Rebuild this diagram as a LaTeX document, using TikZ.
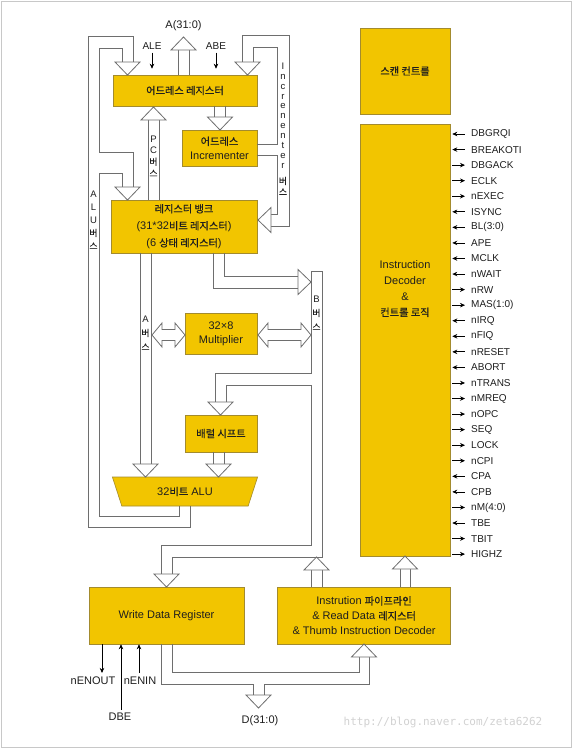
\documentclass[tikz,border=0pt]{standalone}
\usepackage{fontspec}
\setmainfont{Liberation Sans}
\newfontfamily\krfont[Scale=0.93,RawFeature={embolden=0.5}]{Noto Sans CJK KR}
\newfontfamily\stampfont{DejaVu Sans Mono}
\newcommand{\kr}[1]{{\krfont #1}}
\usetikzlibrary{arrows.meta,calc,positioning,shapes.geometric}
\definecolor{Amber}{HTML}{F2C500}
\definecolor{Rim}{HTML}{A38B2E}
\definecolor{Wire}{HTML}{6E6E6E}
\definecolor{Ink}{HTML}{1E1E1E}
\definecolor{Frame}{HTML}{C8C8C8}
\definecolor{Stamp}{HTML}{D2D2D2}
\tikzset{
  block/.style={
    draw=Rim, fill=Amber, line width=0.6pt, align=center, text=Ink,
    inner sep=1pt, font=\fontsize{11}{14}\selectfont
  },
  wall/.style={draw=Wire, line width=0.8pt},
  fathead/.style={wall, fill=white, line join=miter},
  pintext/.style={inner sep=0pt, text=Ink, font=\fontsize{10}{12}\selectfont},
  sigtext/.style={pintext, anchor=west},
  bustext/.style={inner sep=0pt, align=center, text=Ink, font=\fontsize{9.5}{13}\selectfont},
  sig/.style={draw=black, line width=0.7pt},
  sigin/.style={sig, {Stealth[length=5pt,width=4.5pt]}-},
  sigout/.style={sig, -{Stealth[length=5pt,width=4.5pt]}}
}
\newcommand{\headdown}[2]{\draw[fathead] (#1-12.5,#2-13) -- (#1,#2) -- (#1+12.5,#2-13) -- cycle;}
\newcommand{\headup}[2]{\draw[fathead] (#1-12.5,#2+13) -- (#1,#2) -- (#1+12.5,#2+13) -- cycle;}
\newcommand{\headleft}[2]{\draw[fathead] (#1+13,#2-12.5) -- (#1,#2) -- (#1+13,#2+12.5) -- cycle;}
\newcommand{\headright}[2]{\draw[fathead] (#1-13,#2-12.5) -- (#1,#2) -- (#1-13,#2+12.5) -- cycle;}
\newcommand{\twohead}[3]{\draw[fathead] (#1,#3) -- (#1+10,#3-12) -- (#1+10,#3-5.5) -- (#2-10,#3-5.5)
  -- (#2-10,#3-12) -- (#2,#3) -- (#2-10,#3+12) -- (#2-10,#3+5.5) -- (#1+10,#3+5.5) -- (#1+10,#3+12) -- cycle;}

\begin{document}
\begin{tikzpicture}[x=1pt,y=-1pt]
  \useasboundingbox (0,0) rectangle (572,748);
  \fill[white] (0,0) rectangle (572,748);
  \draw[Frame] (1,1) rectangle (571,747);

  % blocks
  \node[block, minimum width=144pt, minimum height=31pt] (addr) at (185,90.5) {\kr{어드레스 레지스터}};
  \node[block, minimum width=75pt, minimum height=36pt] (inc) at (219.5,148) {\kr{어드레스}\\Incrementer};
  \node[block, minimum width=146pt, minimum height=53pt, font=\fontsize{11}{17}\selectfont] (bank) at (184,226.5)
    {\kr{레지스터 뱅크}\\(31*32\kr{비트 레지스터})\\(6 \kr{상태 레지스터})};
  \node[block, minimum width=72pt, minimum height=41pt] (mult) at (221,333.5) {32×8\\Multiplier};
  \node[block, minimum width=72pt, minimum height=37pt] (barrel) at (221,433.5) {\kr{배럴 시프트}};
  \node[block, trapezium, shape border rotate=180, trapezium left angle=66, trapezium right angle=66,
    trapezium stretches=true, minimum width=146pt, minimum height=29pt, inner sep=0pt] (alu) at (185,491.5) {32\kr{비트} ALU};
  \node[block, minimum width=90pt, minimum height=86pt] (scan) at (405,71) {\kr{스캔 컨트롤}};
  \node[block, minimum width=90pt, minimum height=432pt, below=10pt of scan] (dec) {};
  \node[pintext, align=center, font=\fontsize{11}{16}\selectfont] (dectext) at ([yshift=52pt]dec.center)
    {Instruction\\Decoder\\\&\\\kr{컨트롤 로직}};
  \node[block, minimum width=155pt, minimum height=57pt] (wdr) at (166.5,615.5) {Write Data Register};
  \node[block, minimum width=173pt, minimum height=57pt, right=33pt of wdr, font=\fontsize{11}{15}\selectfont] (pipe)
    {Instrution \kr{파이프라인}\\\& Read Data \kr{레지스터}\\\& Thumb Instruction Decoder};

  % address side
  \node[pintext, font=\fontsize{11}{13}\selectfont] (abus) at (183.5,26) {A(31:0)};
  \node[pintext] (ale) at (152,46) {ALE};
  \node[pintext] (abe) at (216,46) {ABE};
  \draw[sigout] ([yshift=-3pt]ale.south) -- ([yshift=6pt]addr.north -| ale);
  \draw[sigout] ([yshift=-3pt]abe.south) -- ([yshift=6pt]addr.north -| abe);
  \draw[wall] (178,75) -- (178,50) (189,75) -- (189,50);
  \headup{183.5}{37}
  \draw[wall] (214.5,106) -- (214.5,117) (225.5,106) -- (225.5,117);
  \headdown{220}{130}
  \draw[wall] (148,200) -- (148,120) (159,200) -- (159,120);
  \headup{153.5}{107}
  \node[bustext, font=\fontsize{9.5}{11.5}\selectfont] (pclbl) at (153.5,156) {P\\C\\\kr{버}\\\kr{스}};

  % ALU bus
  \draw[wall] (190,506) -- (190,527) -- (88,527) -- (88,36) -- (133,36) -- (133,62);
  \draw[wall] (122,62) -- (122,48) -- (99,48) -- (99,152) -- (133,152) -- (133,187);
  \draw[wall] (122,187) -- (122,173) -- (99,173) -- (99,516) -- (179,516) -- (179,506);
  \headdown{127.5}{75}
  \headdown{127.5}{200}
  \node[bustext] (alulbl) at (93.5,220) {A\\L\\U\\\kr{버}\\\kr{스}};

  % incrementer bus
  \draw[wall] (242,62) -- (242,35) -- (289,35) -- (289,226) -- (271,226);
  \draw[wall] (257,144) -- (277,144) -- (277,47) -- (253,47) -- (253,62);
  \draw[wall] (257,155) -- (277,155) -- (277,214) -- (271,214);
  \headdown{247.5}{75}
  \headleft{258}{220}
  \node[bustext, font=\fontsize{9.5}{9.9}\selectfont] (inclbl) at (283,129)
    {I\\n\\c\\r\\e\\n\\e\\n\\t\\e\\r\\[6pt]\kr{버}\\[1pt]\kr{스}};

  % A bus and B bus
  \draw[wall] (140,253) -- (140,464) (151,253) -- (151,464);
  \headdown{145.5}{477}
  \node[bustext, font=\fontsize{9.5}{14}\selectfont] (alabel) at (145.5,333) {A\\\kr{버}\\\kr{스}};
  \draw[wall] (213,253) -- (213,288) -- (298,288) (224,253) -- (224,276) -- (298,276);
  \headright{311}{282}
  \draw[wall] (215,402) -- (215,373) -- (311,373) -- (311,271) -- (322,271) -- (322,557) -- (172,557) -- (172,574);
  \draw[wall] (226,402) -- (226,385) -- (311,385) -- (311,545) -- (161,545) -- (161,574);
  \headdown{220.5}{415}
  \headdown{166.5}{587}
  \node[bustext, font=\fontsize{9.5}{14}\selectfont] (blabel) at (316.5,313) {B\\\kr{버}\\\kr{스}};
  \twohead{152}{185}{335}
  \twohead{258}{311}{335}
  \draw[wall] (213,452) -- (213,464) (224,452) -- (224,464);
  \headdown{218.5}{477}

  % pipeline outputs
  \draw[wall] (311,587) -- (311,570) (322,587) -- (322,570);
  \headup{316.5}{557}
  \draw[wall] (400,587) -- (400,569) (410,587) -- (410,569);
  \headup{405}{556}

  % data bus
  \draw[wall] (161,644) -- (161,684) -- (253,684) -- (253,695);
  \draw[wall] (172,644) -- (172,672) -- (359,672) -- (359,657);
  \draw[wall] (264,695) -- (264,684) -- (369,684) -- (369,657);
  \headdown{258.5}{708}
  \headup{364}{644}
  \node[pintext, font=\fontsize{11}{13}\selectfont] (dlbl) at (260,721) {D(31:0)};

  % write data register pins
  \node[pintext, font=\fontsize{11}{13}\selectfont] (nenout) at (93,681) {nENOUT};
  \node[pintext, font=\fontsize{11}{13}\selectfont] (nenin) at (140,681) {nENIN};
  \node[pintext, font=\fontsize{11}{13}\selectfont] (dbe) at (120,717) {DBE};
  \draw[sigout] ([xshift=9pt]nenout.north |- wdr.south) -- ([xshift=9pt,yshift=4pt]nenout.north);
  \draw[sigout] ([xshift=-1pt,yshift=4pt]nenin.north) -- ([xshift=-1pt]nenin.north |- wdr.south);
  \draw[sigout] ([xshift=1pt,yshift=3pt]dbe.north) -- ([xshift=1pt]dbe.north |- wdr.south);

  % control pins
  \foreach \sname/\sdir [count=\i from 0] in {DBGRQI/in,BREAKOTI/in,DBGACK/out,ECLK/out,nEXEC/out,
      ISYNC/in,BL(3:0)/in,APE/in,MCLK/in,nWAIT/in,nRW/out,MAS(1:0)/out,nIRQ/in,nFIQ/in,nRESET/in,
      ABORT/in,nTRANS/out,nMREQ/out,nOPC/out,SEQ/out,LOCK/out,nCPI/out,CPA/in,CPB/in,nM(4:0)/out,
      TBE/in,TBIT/out,HIGHZ/out} {
    \node[sigtext] (sig\i) at (471,134+15.56*\i) {\sname};
    \draw[sig\sdir] ([xshift=2pt]dec.east |- sig\i.west) -- ([xshift=-6pt]sig\i.west);
  }

  \node[inner sep=0pt, text=Stamp, font=\stampfont\fontsize{11}{13}\selectfont] (stamp) at (443,722)
    {http://blog.naver.com/zeta6262};
\end{tikzpicture}
\end{document}
